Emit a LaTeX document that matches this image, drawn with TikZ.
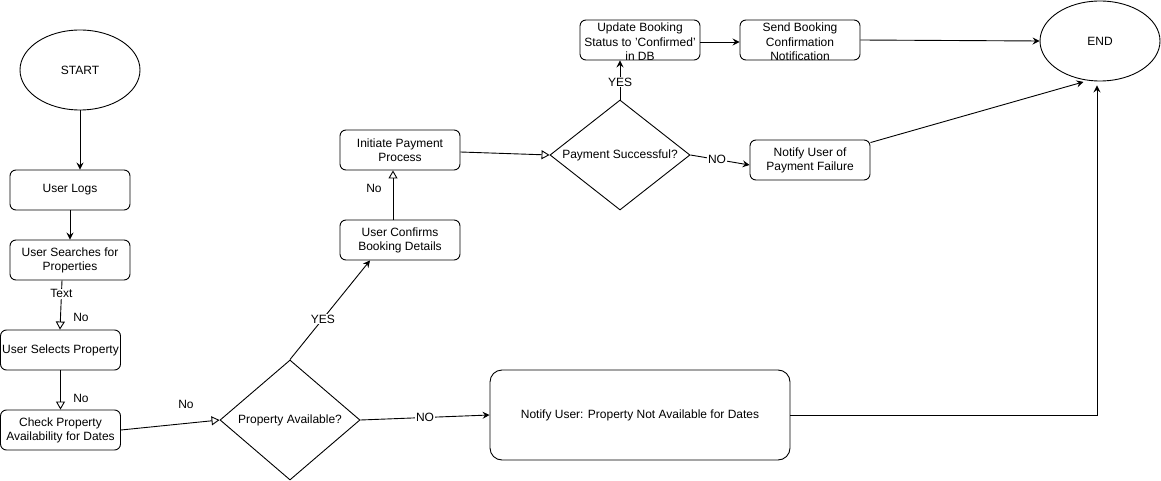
\documentclass[tikz,border=0pt]{standalone}
\usepackage{fontspec}
\setmainfont{Liberation Sans}
\usetikzlibrary{shapes.geometric,arrows.meta}
\begin{document}
\begin{tikzpicture}[x=1pt,y=-1pt,
  every node/.style={font=\fontsize{12}{14}\selectfont},
  line/.style={line width=0.9pt},
  box/.style={draw, line, rounded corners=6pt, minimum width=120pt, minimum height=40pt, align=center, inner sep=1pt},
  bigbox/.style={draw, line, rounded corners=12pt, minimum width=300pt, minimum height=90pt, align=center},
  terminal/.style={draw, line, ellipse, minimum width=120pt, minimum height=80pt, inner sep=0pt},
  decision/.style={draw, line, diamond, aspect=1.2, inner sep=0pt, align=center},
  fa/.style={line, -{Stealth[length=7pt,width=7pt,inset=2.5pt]}},
  oa/.style={line, -{Triangle[open,length=8pt,width=9pt]}},
  lbl/.style={fill=white, inner sep=1pt},
  note/.style={inner sep=1pt}
]
\useasboundingbox (0,0) rectangle (1161,481);

% nodes
\node[terminal] (start) at (80,70) {START};
\node[box] (logs) at (70,190) {User Logs};
\node[box] (search) at (70,260) {User Searches for\\Properties};
\node[box] (select) at (60.5,350) {User Selects Property};
\node[box] (check) at (60.5,430) {Check Property\\Availability for Dates};
\node[decision, minimum width=140pt, minimum height=120pt] (avail) at (290,420) {Property Available?};
\node[bigbox] (notavail) at (640,415) {Notify User: Property Not Available for Dates};
\node[box] (confirm) at (400,240) {User Confirms\\Booking Details};
\node[box] (pay) at (400,150) {Initiate Payment\\Process};
\node[decision, minimum width=140pt, minimum height=110pt] (paid) at (620,155) {Payment Successful?};
\node[box] (fail) at (810,160) {Notify User of\\Payment Failure};
\node[box] (update) at (640,40) {};
\node[align=center, inner sep=0pt, font=\fontsize{12}{14.5}\selectfont] (updatetxt) at (640,42) {Update Booking\\Status to 'Confirmed'\\in DB};
\node[box] (send) at (800,40) {};
\node[align=center, inner sep=0pt, font=\fontsize{12}{14.5}\selectfont] (sendtxt) at (800,42) {Send Booking\\Confirmation\\Notification};
\node[terminal] (end) at (1100,41) {END};

% connectors
\draw[fa] (start.south) -- (start.south |- logs.north);
\draw[fa] (logs.south) -- (search.north);
\draw[oa] ([xshift=-8pt]search.south) -- node[lbl, pos=0.27] {Text} ([xshift=-0.5pt]select.north);
\node[note] (no1) at (81,317) {No};
\draw[oa] (select.south) -- (check.north);
\node[note] (no2) at (81,398) {No};
\draw[oa] (check.east) -- (avail.west);
\node[note] (no3) at (186,404) {No};
\draw[fa] (avail.east) -- node[lbl, pos=0.5] {NO} (notavail.west);
\draw[fa] (avail.north) -- node[lbl, pos=0.41] {YES} ([xshift=-30pt]confirm.south);
\draw[oa] ([xshift=-7pt]confirm.north) -- ([xshift=-7pt]pay.south);
\node[note] (no4) at (374,188) {No};
\draw[oa] ([yshift=-2pt]pay.east) -- (paid.west);
\draw[fa] (paid.east) -- node[lbl, pos=0.45] {NO} ([yshift=-5pt]fail.west);
\draw[fa] (paid.north) -- node[lbl, pos=0.45] {YES} ([xshift=-20pt]update.south);
\draw[fa] ([yshift=-2pt]update.east) -- ([yshift=-2pt]send.west);
\draw[fa] (send.east) -- (end.west);
\draw[fa] ([yshift=-3pt]fail.north east) -- ([yshift=-2pt]end.247);
\draw[fa] (notavail.east) -| ([xshift=-3pt,yshift=-4pt]end.south);
\end{tikzpicture}
\end{document}
